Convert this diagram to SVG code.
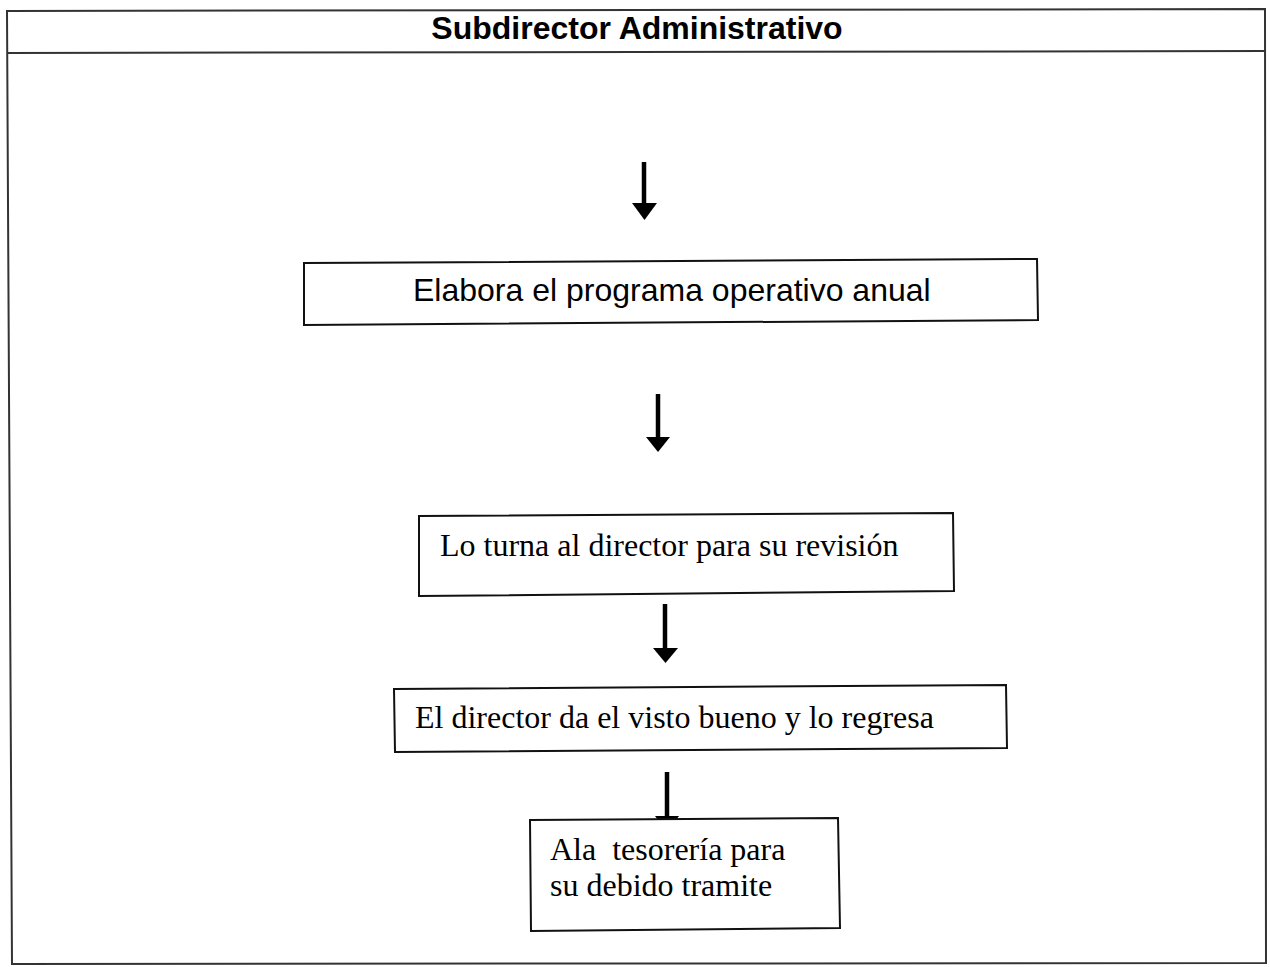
<svg xmlns="http://www.w3.org/2000/svg" width="1270" height="967" viewBox="0 0 1270 967">
  <style>
    .frame { fill: none; stroke: #333; stroke-width: 2; }
    .box { fill: #fff; stroke: #111; stroke-width: 2; }
    .shaft { stroke: #000; stroke-width: 4.5; }
    .head { fill: #000; }
    .title { font-family: "Liberation Sans", Arial, sans-serif; font-weight: bold; font-size: 32px; fill: #000; }
    .sans { font-family: "Liberation Sans", Arial, sans-serif; font-size: 32px; fill: #000; }
    .serif { font-family: "Liberation Serif", "Times New Roman", serif; font-size: 32px; fill: #000; white-space: pre; }
  </style>
  <rect width="1270" height="967" fill="#fff"/>

  <!-- swimlane frame with header -->
  <g id="lane">
    <path class="frame" d="M7 11 L1265 9 L1266 963 L12 964 Z"/>
    <line class="frame" x1="7" y1="53" x2="1265" y2="51"/>
    <text class="title" x="637" y="39" text-anchor="middle">Subdirector Administrativo</text>
  </g>

  <!-- connectors -->
  <g id="connectors">
    <line class="shaft" x1="644" y1="162" x2="644" y2="205"/>
    <polygon class="head" points="632,203 657,203 644.5,220"/>

    <line class="shaft" x1="658" y1="394" x2="658" y2="439"/>
    <polygon class="head" points="646,437 670,437 658,452"/>

    <line class="shaft" x1="665" y1="604" x2="665" y2="650"/>
    <polygon class="head" points="653,648 678,648 665.5,663"/>

    <line class="shaft" x1="667" y1="772" x2="667" y2="820"/>
    <polygon class="head" points="655,816 679,816 667,832"/>
  </g>

  <g id="n1">
    <path class="box" d="M304 263 L1037 259 L1038 320 L304 325 Z"/>
    <text class="sans" x="413" y="301">Elabora el programa operativo anual</text>
  </g>

  <g id="n2">
    <path class="box" d="M419 516 L953 513 L954 591 L419 596 Z"/>
    <text class="serif" x="440" y="556">Lo turna al director para su revisión</text>
  </g>

  <g id="n3">
    <path class="box" d="M394 689 L1006 685 L1007 748 L395 752 Z"/>
    <text class="serif" x="415" y="728">El director da el visto bueno y lo regresa</text>
  </g>

  <g id="n4">
    <path class="box" d="M530 820 L838 818 L840 928 L531 931 Z"/>
    <text class="serif" x="550" y="860">Ala  tesorería para</text>
    <text class="serif" x="550" y="896">su debido tramite</text>
  </g>
</svg>
